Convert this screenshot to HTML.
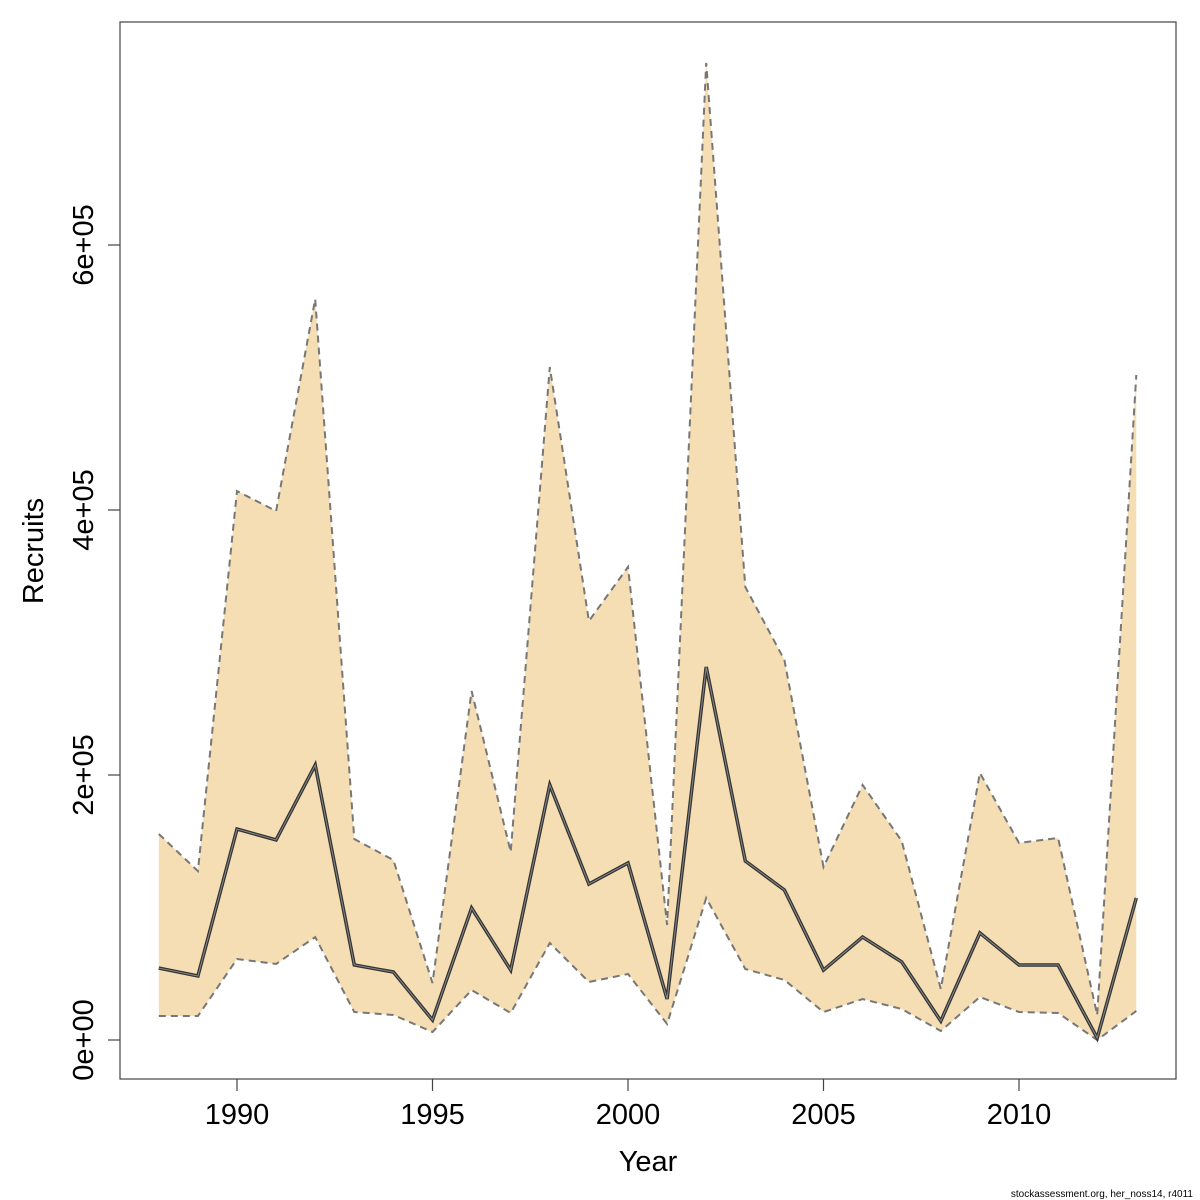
<!DOCTYPE html>
<html><head><meta charset="utf-8"><style>body{margin:0;background:#fff}svg{display:block;font-family:"Liberation Sans","DejaVu Sans",sans-serif}</style></head>
<body>
<svg id="chart" width="1200" height="1200"></svg>
<script>
const years=[1988,1989,1990,1991,1992,1993,1994,1995,1996,1997,1998,1999,2000,2001,2002,2003,2004,2005,2006,2007,2008,2009,2010,2011,2012,2013];
const median=[54300,48300,159200,151000,207500,56600,51300,15100,99600,52800,192500,117700,133600,30900,281500,135100,113200,52800,77700,58900,14300,80800,56600,56600,1500,107200];
const upper=[155500,127500,414300,399200,559200,151700,135800,43000,263400,141900,507900,316200,357000,86800,737400,341900,286800,130600,192500,150200,38500,201500,148700,152500,18900,501900];
const lower=[18100,18100,61100,57400,77700,21100,18900,6000,37700,20400,73200,43800,49800,12100,107200,53600,45300,21100,30900,23400,6800,32500,21100,20400,0,21900];
const xTicks=[1990,1995,2000,2005,2010];
const yTicks=[0,200000,400000,600000];
const yLabels=["0e+00","2e+05","4e+05","6e+05"];
const NS="http://www.w3.org/2000/svg";
const svg=document.getElementById('chart');
const x=v=>237+(v-1990)*39.1;
const y=v=>1040-v/200000*265;
function mk(t,a,p){const e=document.createElementNS(NS,t);for(const k in a)e.setAttribute(k,a[k]);(p||svg).appendChild(e);return e;}
let pts=years.map((yr,i)=>x(yr)+','+y(upper[i])).concat(years.map((yr,i)=>x(yr)+','+y(lower[i])).reverse()).join(' ');
const band=mk('polygon',{points:pts,fill:'#F5DEB3',stroke:'none'});


const up=mk('polyline',{points:years.map((yr,i)=>x(yr)+','+y(upper[i])).join(' '),fill:'none',stroke:'#777',"stroke-width":2,"stroke-dasharray":"7,5"});


const lo=mk('polyline',{points:years.map((yr,i)=>x(yr)+','+y(lower[i])).join(' '),fill:'none',stroke:'#777',"stroke-width":2,"stroke-dasharray":"7,5"});


const medPts=years.map((yr,i)=>x(yr)+','+y(median[i])).join(' ');
const m1=mk('polyline',{points:medPts,fill:'none',stroke:'#333',"stroke-width":3.5});


const m2=mk('polyline',{points:medPts,fill:'none',stroke:'#888',"stroke-width":1});


const box=mk('rect',{x:120,y:22,width:1056,height:1057,fill:'none',stroke:'#444',"stroke-width":1.2});


xTicks.forEach(t=>{
 const l=mk('line',{x1:x(t),x2:x(t),y1:1079,y2:1091,stroke:'#444',"stroke-width":1.2});
 
 
 const tx=mk('text',{x:x(t),y:1124,"text-anchor":"middle","font-size":29,fill:'#000'});tx.textContent=t;
 
 
});
yTicks.forEach((t,i)=>{
 const l=mk('line',{x1:108,x2:120,y1:y(t),y2:y(t),stroke:'#444',"stroke-width":1.2});
 
 
 const tx=mk('text',{x:0,y:0,"text-anchor":"middle","font-size":29,fill:'#000',transform:`translate(93,${y(t)}) rotate(-90)`});tx.textContent=yLabels[i];
 
 
});
const xt=mk('text',{x:648,y:1171,"text-anchor":"middle","font-size":29,fill:'#000'});xt.textContent='Year';


const yt=mk('text',{x:0,y:0,"text-anchor":"middle","font-size":29,fill:'#000',transform:'translate(43,551) rotate(-90)'});yt.textContent='Recruits';


const ft=mk('text',{x:1193,y:1197,"text-anchor":"end","font-size":10,fill:'#000'});ft.textContent='stockassessment.org, her_noss14, r4011';


</script>
</body></html>
